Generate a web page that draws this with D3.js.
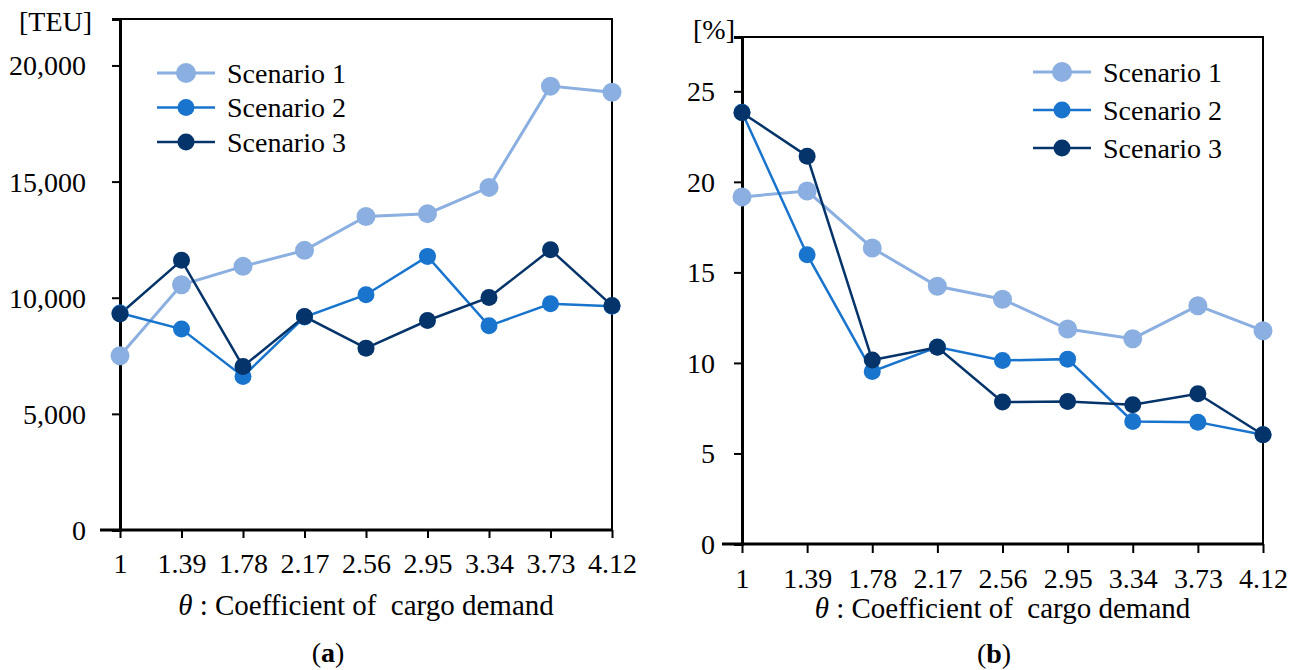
<!DOCTYPE html>
<html><head><meta charset="utf-8">
<script src="https://cdnjs.cloudflare.com/ajax/libs/d3/7.8.5/d3.min.js"></script>
<style>
body{margin:0;background:#fff;}
</style></head>
<body><svg id="c" width="1301" height="670" font-family="Liberation Serif, serif"></svg>
<script>
const FONT = "'Liberation Serif', 'Times New Roman', serif";
const categories = ["1","1.39","1.78","2.17","2.56","2.95","3.34","3.73","4.12"];
const seriesNames = ["Scenario 1","Scenario 2","Scenario 3"];
const colors = ["#8aafe0","#1874cd","#04346a"];
// (a) TEU
const teuS1 = [7500,10560,11350,12040,13500,13620,14750,19110,18850];
const teuS2 = [9340,8650,6610,9170,10130,11780,8790,9740,9630];
const teuS3 = [9300,11610,7040,9190,7830,9020,10010,12070,9660];
const teuTicks = [0,5000,10000,15000,20000];
// (b) %
const pctS1 = [19.17,19.49,16.35,14.23,13.52,11.87,11.34,13.16,11.78];
const pctS2 = [23.85,15.98,9.53,10.88,10.14,10.21,6.77,6.73,6.03];
const pctS3 = [23.82,21.42,10.16,10.86,7.84,7.87,7.69,8.30,6.03];
const pctTicks = [0,5,10,15,20,25];

const svg = d3.select("#c");

function txt(sel){ return sel.attr("font-family",FONT).style("font-family",FONT).attr("fill","#000"); }

function panel(cfg){
  const g = svg.append("g");
  const x = d3.scalePoint().domain(categories).range([cfg.left,cfg.right]).padding(0);
  const y = d3.scaleLinear().domain([0,cfg.max]).range([cfg.bottom,cfg.top]);
  g.append("rect").attr("x",cfg.left).attr("y",cfg.top)
    .attr("width",cfg.right-cfg.left).attr("height",cfg.bottom-cfg.top)
    .attr("fill","none").attr("stroke","#000").attr("stroke-width",2);
  const ya = g.append("g").attr("transform",`translate(${cfg.left},0)`)
    .call(d3.axisLeft(y).tickValues(cfg.ticks).tickSize(8).tickPadding(cfg.ypad).tickFormat(cfg.fmt));
  ya.attr("font-family",FONT);
  ya.select(".domain").attr("stroke-width",3);
  ya.selectAll(".tick line").attr("stroke-width",2);
  txt(ya.selectAll(".tick text")).attr("font-size",28).attr("dy","0.34em");
  const xa = g.append("g").attr("transform",`translate(0,${cfg.bottom})`)
    .call(d3.axisBottom(x).tickSize(cfg.xtick).tickPadding(cfg.xpad));
  xa.attr("font-family",FONT);
  xa.select(".domain").attr("stroke-width",3).attr("d",`M${cfg.left - 20},0H${cfg.right}`);
  xa.selectAll(".tick line").attr("stroke-width",2);
  txt(xa.selectAll(".tick text")).attr("font-size",28).attr("dy","0.71em");

  const line = d3.line().x((d,i)=>x(categories[i])).y(d=>y(d));
  cfg.series.forEach((vals,si)=>{
    g.append("path").datum(vals).attr("d",line).attr("fill","none")
      .attr("stroke",colors[si]).attr("stroke-width",si===0?3:2.5);
  });
  cfg.series.forEach((vals,si)=>{
    g.selectAll(null).data(vals).enter().append("circle")
      .attr("cx",(d,i)=>x(categories[i])).attr("cy",d=>y(d))
      .attr("r",si===0?9.5:8.5).attr("fill",colors[si]);
  });
  seriesNames.forEach((n,i)=>{
    const ly = cfg.legY + i*cfg.legDy;
    g.append("line").attr("x1",cfg.legX).attr("x2",cfg.legX+58).attr("y1",ly).attr("y2",ly)
      .attr("stroke",colors[i]).attr("stroke-width",i===0?3:2.5);
    g.append("circle").attr("cx",cfg.legX+29).attr("cy",ly).attr("r",i===0?10:8.5).attr("fill",colors[i]);
    txt(g.append("text")).attr("x",cfg.legX+70).attr("y",ly).attr("dy","0.35em").attr("font-size",28).text(n);
  });
  txt(g.append("text")).attr("x",cfg.unitX).attr("y",cfg.unitY).attr("font-size",28).text(cfg.unit);
  const t = txt(g.append("text")).attr("x",(cfg.left+cfg.right)/2).attr("y",cfg.titleY)
    .attr("text-anchor","middle").attr("font-size",29);
  t.append("tspan").attr("font-style","italic").text("θ");
  t.append("tspan").text(" : Coefficient of \u00a0cargo demand");
  const p = txt(g.append("text")).attr("x",cfg.labX).attr("y",cfg.labY).attr("text-anchor","middle").attr("font-size",28);
  p.append("tspan").text("(");
  p.append("tspan").attr("font-weight","bold").text(cfg.lab);
  p.append("tspan").text(")");
}

panel({left:120,right:612,top:19,bottom:530,max:22000,ticks:teuTicks,
  fmt:d3.format(","),ypad:26,xtick:8,xpad:15,
  series:[teuS1,teuS2,teuS3],legX:157,legY:73,legDy:34.5,
  unit:"[TEU]",unitX:19,unitY:31,titleY:615,lab:"a",labX:328,labY:662});
panel({left:742,right:1263,top:37,bottom:544,max:28,ticks:pctTicks,
  fmt:d3.format("d"),ypad:19,xtick:9,xpad:15,
  series:[pctS1,pctS2,pctS3],legX:1033,legY:72,legDy:38,
  unit:"[%]",unitX:693,unitY:39,titleY:618,lab:"b",labX:994,labY:663});
</script></body></html>
